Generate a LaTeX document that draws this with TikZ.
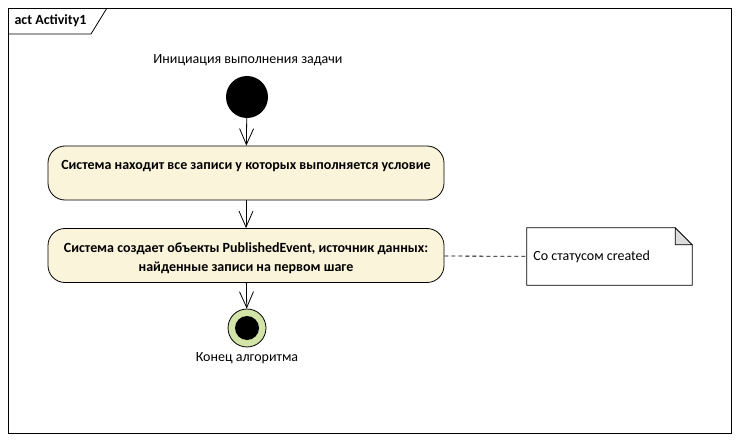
\documentclass[tikz,border=0pt]{standalone}
\usepackage{fontspec}
\setmainfont{Carlito}
\usetikzlibrary{arrows.meta}
\definecolor{actfill}{RGB}{250,244,218}
\definecolor{finalfill}{RGB}{210,228,168}
\definecolor{foldgray}{RGB}{220,220,220}

\begin{document}
\begin{tikzpicture}[x=1pt,y=-1pt,font=\fontsize{14}{16}\selectfont,
    action/.style={draw,line width=0.8pt,rounded corners=17pt,fill=actfill,
      minimum width=396pt,minimum height=54pt,align=center,font=\fontsize{14}{19}\selectfont\bfseries},
    flow/.style={-{Straight Barb[length=16pt,width=14pt]},line width=0.8pt},
    notebox/.style={minimum width=165pt,minimum height=57pt,inner sep=0pt}]
    \useasboundingbox (0,0) rectangle (739,441);
    \draw[line width=0.8pt] (8,8) rectangle (731,433);
    \draw[line width=0.8pt] (8,34) -- (91,34) -- (107,8);
    \node[anchor=west,font=\fontsize{14}{16}\selectfont\bfseries] (frametitle) at (11,21) {act Activity1};

    \node (startlbl) at (248,60) {Инициация выполнения задачи};
    \node[circle,fill=black,minimum size=42pt,inner sep=0pt] (start) at (247,97) {};

    \node[action,text depth=17pt] (act1) at (246,173) {Система находит все записи у которых выполняется условие};
    \node[action] (act2) at (246,255.5) {\rule{0pt}{16pt}Система создает объекты PublishedEvent, источник данных:\\найденные записи на первом шаге};

    \node[circle,draw,line width=0.8pt,fill=finalfill,minimum size=38pt,inner sep=0pt] (final) at (247,328) {};
    \node[circle,fill=black,minimum size=24pt,inner sep=0pt] (finaldot) at (final) {};
    \node (endlbl) at (247,358) {Конец алгоритма};

    \draw[flow] (start) -- (act1);
    \draw[flow] (act1) -- (act2);
    \draw[flow] (act2) -- (final);

    \node[notebox] (note) at (609.5,256.5) {};
    \draw[line width=0.8pt,fill=white] (note.north west) -- ([xshift=-17pt]note.north east)
      -- ([yshift=-17pt]note.north east) -- (note.south east) -- (note.south west) -- cycle;
    \draw[line width=0.8pt,fill=foldgray] ([xshift=-17pt]note.north east) -- ([yshift=-17pt]note.north east)
      -- ([xshift=-17pt,yshift=-17pt]note.north east) -- cycle;
    \node[anchor=west] (notetext) at ([xshift=3pt]note.west) {Со статусом created};
    \draw[dashed,line width=0.8pt,dash pattern=on 4pt off 3pt] (act2) -- (note);
\end{tikzpicture}
\end{document}
